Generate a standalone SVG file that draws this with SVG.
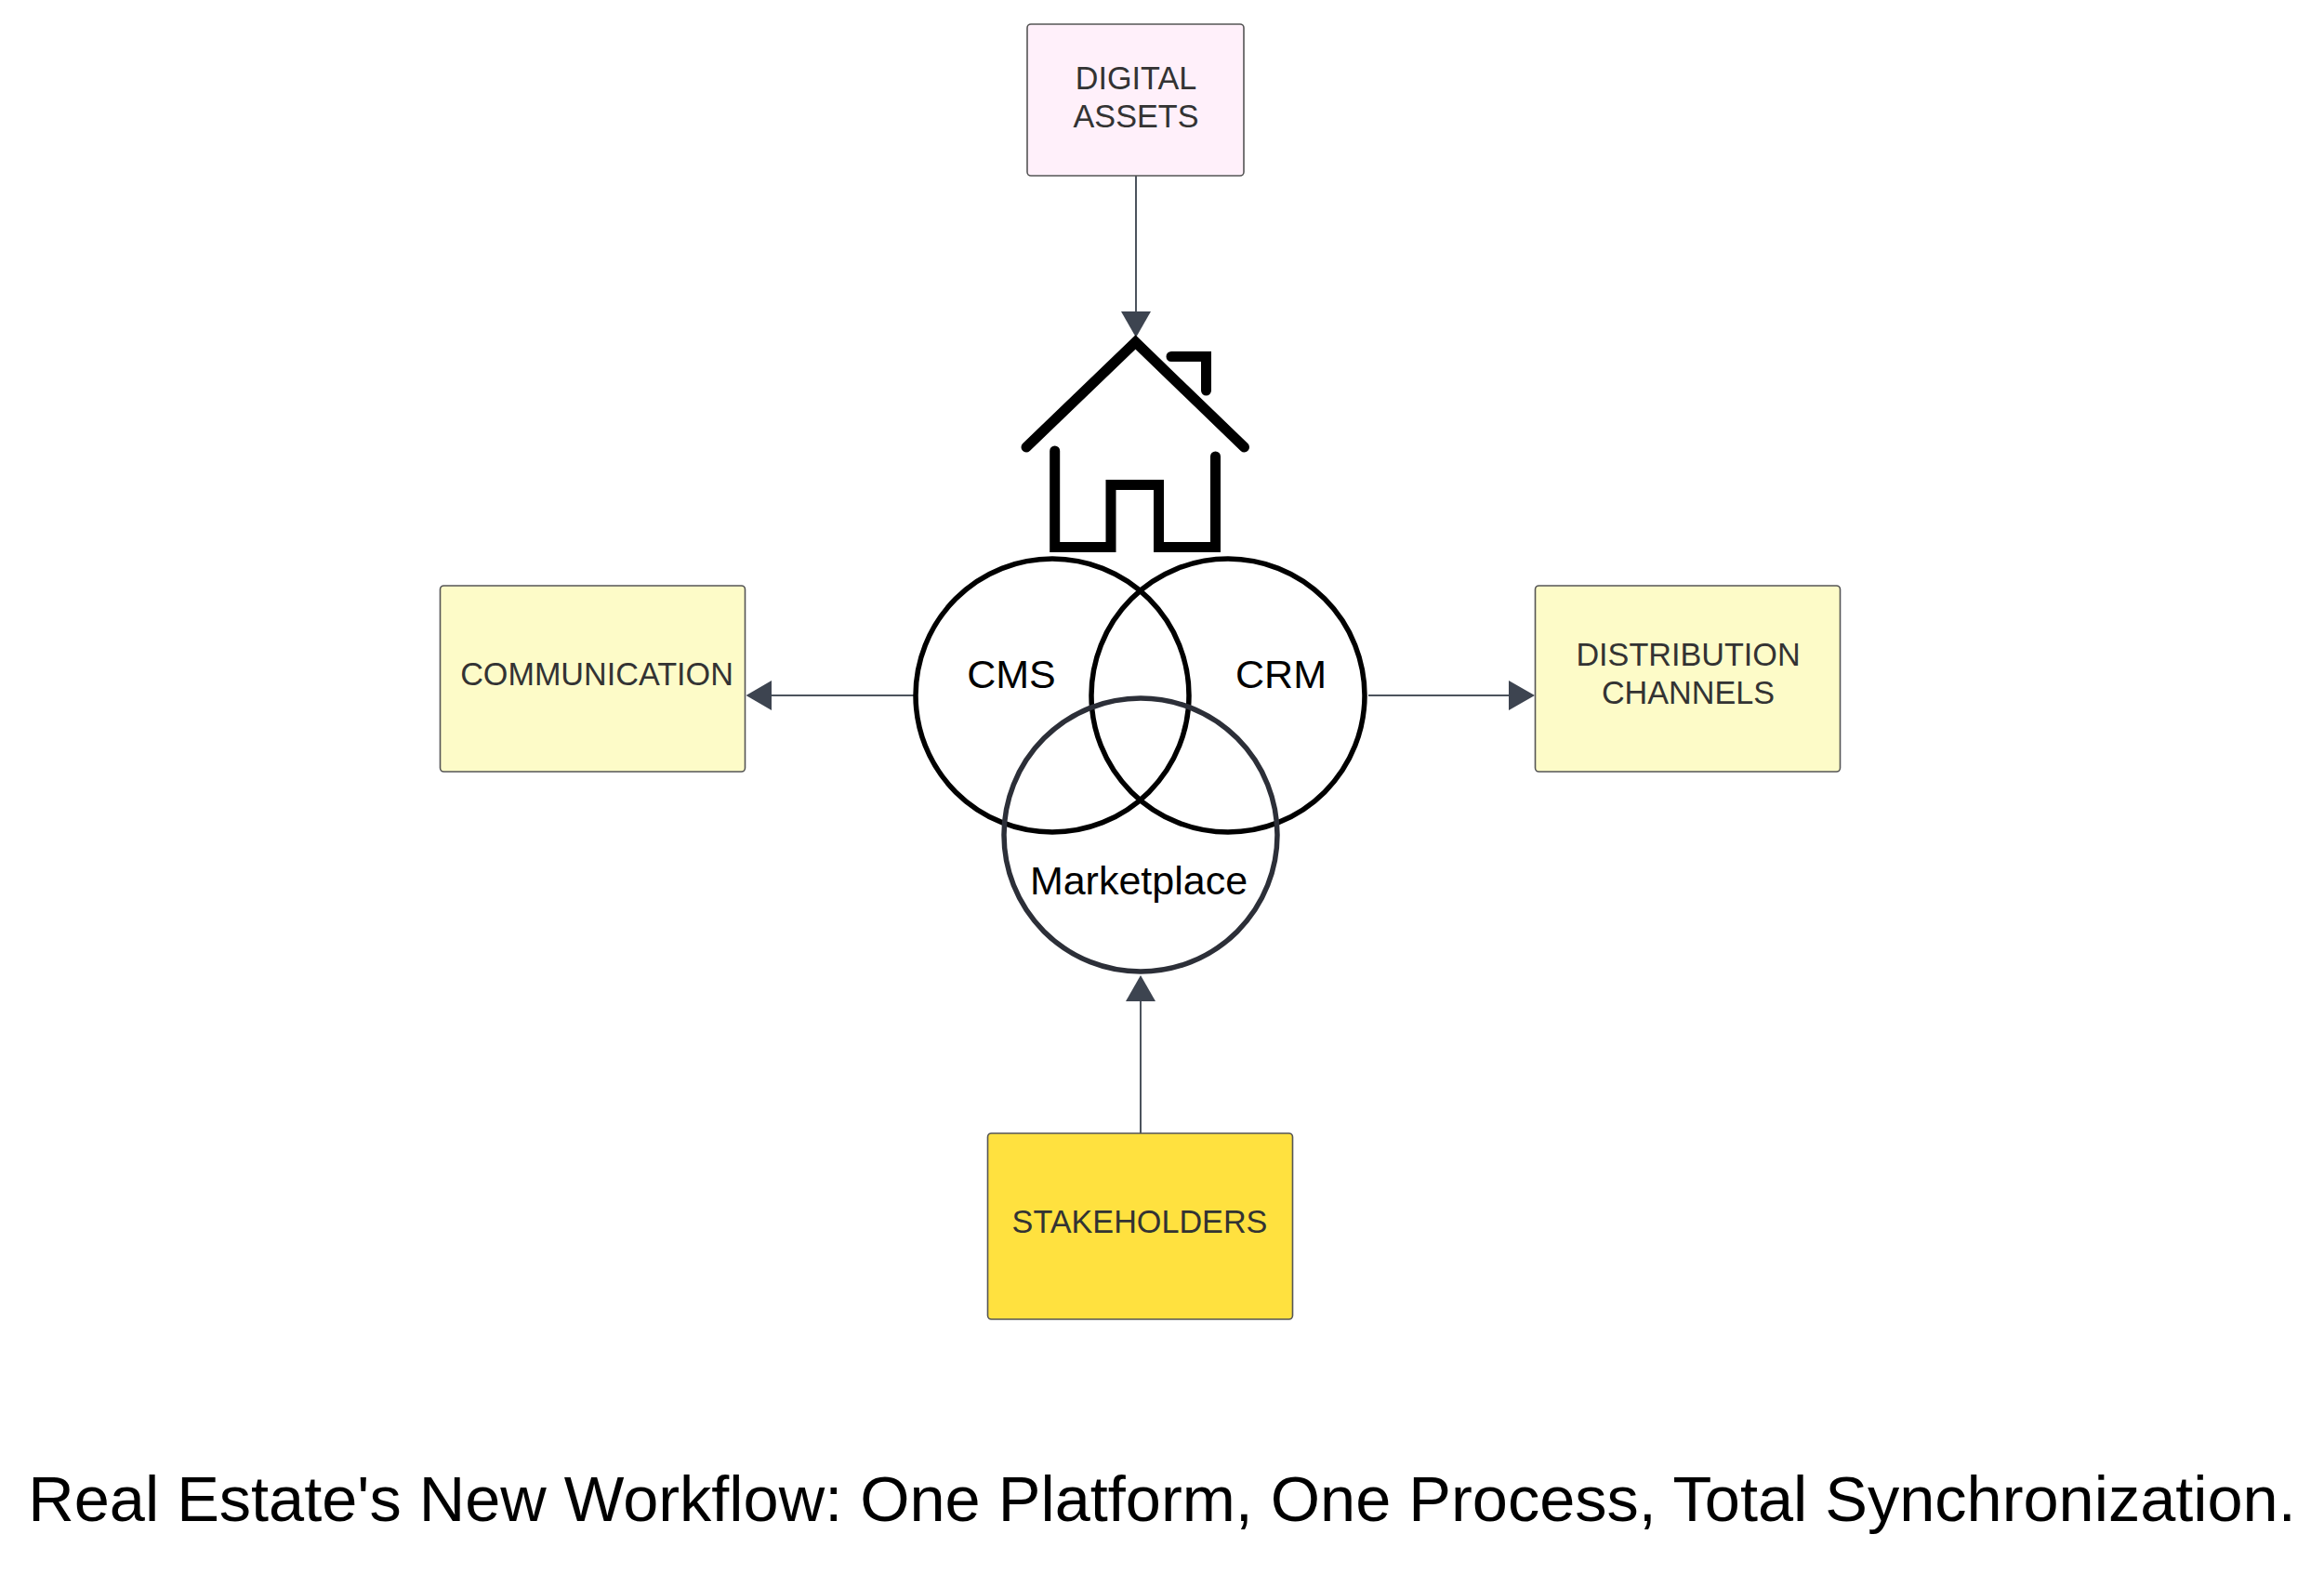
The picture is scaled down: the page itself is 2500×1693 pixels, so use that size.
<svg xmlns="http://www.w3.org/2000/svg" width="2500" height="1693" viewBox="0 0 2500 1693">
<style>
.box{stroke:#555555;stroke-width:1.6}
.lbl{font-family:"Liberation Sans",Arial,sans-serif;font-size:34.2px;fill:#333333;text-anchor:middle}
.big{font-family:"Liberation Sans",Arial,sans-serif;font-size:43px;fill:#000;text-anchor:middle}
.conn{stroke:#4c535d;stroke-width:2;fill:none}
.head{fill:#3d4450}
.house{fill:none;stroke:#000;stroke-width:11}
.venn{fill:none;stroke:#000;stroke-width:5.500}
</style>
<rect width="2500" height="1693" fill="#fff"/>
<g id="connectors">
<line class="conn" x1="985" y1="748" x2="829" y2="748"/><polygon class="head" points="830,732 830,764 802.500,748"/>
<line class="conn" x1="1222" y1="189" x2="1222" y2="336"/><polygon class="head" points="1206,335 1238,335 1222,363"/>
<line class="conn" x1="1472" y1="748" x2="1624" y2="748"/><polygon class="head" points="1623,732 1623,764 1651,748"/>
<line class="conn" x1="1227" y1="1219" x2="1227" y2="1076"/><polygon class="head" points="1211,1077 1243,1077 1227,1049"/>
</g>
<g id="house">
<path class="house" stroke-linecap="round" d="M1104,481 L1221.500,368 L1338.500,481"/>
<path class="house" stroke-linecap="round" d="M1260,383.500 H1297.500 V420"/>
<path class="house" stroke-linecap="round" d="M1134.700,485 V588.500 H1195 V521.500 H1246.500 V588.500 H1307.500 V491"/>
</g>
<g id="cms"><circle class="venn" cx="1132" cy="748" r="147"/><text class="big" x="1088" y="740">CMS</text></g>
<g id="crm"><circle class="venn" cx="1321" cy="748" r="147"/><text class="big" x="1378" y="740">CRM</text></g>
<g id="marketplace"><circle class="venn" style="stroke:#2c2f38" cx="1227" cy="898" r="147"/><text class="big" x="1225" y="962">Marketplace</text></g>
<g id="digital-assets"><rect class="box" x="1105" y="26" width="233" height="163" rx="4" fill="#fff0fa"/><text class="lbl" x="1222" y="96">DIGITAL</text><text class="lbl" x="1222" y="137">ASSETS</text></g>
<g id="communication"><rect class="box" x="473.500" y="630" width="328" height="200" rx="4" fill="#fdfbc8"/><text class="lbl" x="642" y="737">COMMUNICATION</text></g>
<g id="distribution-channels"><rect class="box" x="1651.500" y="630" width="328" height="200" rx="4" fill="#fdfbc8"/><text class="lbl" x="1816" y="716">DISTRIBUTION</text><text class="lbl" x="1816" y="757">CHANNELS</text></g>
<g id="stakeholders"><rect class="box" x="1062.500" y="1219" width="328" height="200" rx="4" fill="#ffe13f"/><text class="lbl" x="1226" y="1326">STAKEHOLDERS</text></g>
<text id="title" x="1250" y="1636" font-family="Liberation Sans, Arial, sans-serif" font-size="68.5" fill="#000" text-anchor="middle">Real Estate's New Workflow: One Platform, One Process, Total Synchronization.</text>
</svg>
